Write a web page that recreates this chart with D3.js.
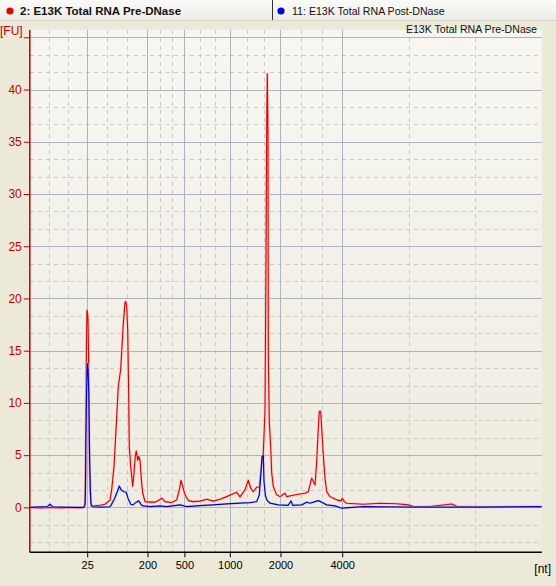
<!DOCTYPE html>
<html><head><meta charset="utf-8">
<script src="https://cdn.jsdelivr.net/npm/d3@7"></script>
<style>
html,body{margin:0;padding:0;background:#ECE9D8;}
svg{display:block;font-family:"Liberation Sans",Arial,sans-serif;}
</style></head><body>
<svg id="c" width="556" height="586"></svg>
<script>
// Migration time (s) and fluorescence (FU)
const redT = [19.02,20.02,21.02,22.02,23.02,24.02,24.42,24.49,24.54,24.60,24.67,24.72,24.77,24.82,24.87,24.92,24.97,25.05,25.15,25.52,26.02,26.52,27.02,27.19,27.42,27.62,27.85,28.09,28.22,28.35,28.52,28.59,28.69,28.79,28.89,28.95,29.09,29.29,29.42,29.55,29.65,29.79,29.89,30.02,30.19,30.29,30.52,31.02,31.52,31.85,32.19,32.52,33.19,33.69,33.95,34.12,34.29,34.52,34.85,35.35,36.02,36.69,37.35,38.02,38.69,39.35,39.69,40.02,40.52,40.85,41.09,41.35,41.69,41.95,42.09,42.35,42.52,42.62,42.69,42.75,42.82,42.85,42.95,43.09,43.19,43.35,43.69,44.02,44.52,44.69,45.19,45.85,46.52,46.85,47.02,47.19,47.35,47.52,47.69,47.85,47.95,48.09,48.19,48.35,48.52,48.69,49.02,49.35,49.69,50.12,50.25,50.45,50.69,52.35,54.02,55.69,56.85,57.35,59.02,61.19,61.69,64.02,67.35,70.13];
const redFU = [0,-0.05,0,-0.05,0,-0.05,0,0.3,1.5,8,16,18.9,18.7,18.0,15,9,4,1.2,0.1,0.15,0.2,0.3,0.7,1.7,3.9,7.4,11.6,13.2,15.4,17.6,19.6,19.7,19.2,17,10.6,5.8,3.9,2.0,3.3,4.9,5.4,4.5,4.9,4.5,2.3,1.4,0.55,0.5,0.5,0.65,0.88,0.55,0.46,0.72,1.67,2.6,2.0,1.2,0.65,0.55,0.6,0.78,0.6,0.78,1.03,1.3,1.45,1.0,1.67,2.6,1.84,1.5,1.93,1.93,3.3,5.2,9.3,23.7,36.4,41.5,35.8,14.8,8.1,5.8,3.3,2.0,1.2,1.03,1.36,1.03,1.13,1.26,1.36,1.5,2.15,2.8,2.47,2.15,4.4,7.6,9.2,9.2,7.6,5.0,2.8,1.5,1.03,0.88,0.72,0.62,0.88,0.55,0.4,0.3,0.4,0.35,0.24,0.08,0.08,0.33,0.1,0.02,0.05,0.02];
const blueT = [19.02,20.02,20.72,21.02,21.32,23.02,24.42,24.54,24.58,24.61,24.68,24.74,24.82,24.90,24.97,25.05,25.12,25.32,26.02,26.99,27.15,27.49,27.75,27.95,28.15,28.42,28.65,28.82,29.09,29.32,29.65,29.89,30.15,30.35,31.02,32.02,32.69,34.02,34.69,36.02,37.35,38.69,40.02,41.02,41.69,41.95,42.09,42.22,42.35,42.42,42.55,42.69,43.02,43.85,44.85,45.12,45.29,46.19,46.69,47.02,47.52,47.85,48.19,48.69,49.52,50.19,52.35,57.32,64.02,70.19];
const blueFU = [0,0.05,0.05,0.3,0.05,0,0,0.3,3.0,6.8,11,13.8,13.2,11,5.5,1.8,0.3,0.05,0.02,0.05,0.24,0.88,1.5,2.05,1.67,1.5,1.45,0.88,0.3,0.24,0.5,0.62,0.24,0.14,0.08,0.14,0.08,0.24,0.08,0.17,0.24,0.33,0.4,0.46,0.55,1.2,2.95,4.86,5.0,2.5,1.2,0.72,0.4,0.24,0.2,0.62,0.2,0.24,0.5,0.4,0.55,0.65,0.5,0.24,0.14,-0.08,0.08,0.02,0.02,0.08];
// ladder ticks: size label and migration time
const xTickLabels = ["25","200","500","1000","2000","4000"];
const xTickTimes = [24.74,30.77,34.46,39.00,44.07,50.24];
const yTicks = [0,5,10,15,20,25,30,35,40,45];
const sampleNames = ["2: E13K Total RNA Pre-DNase","11: E13K Total RNA Post-DNase"];
const plotTitle = "E13K Total RNA Pre-DNase";

const svg = d3.select("#c");
const L=29.8, R=541.8, T=30, B=552.3;
const x = d3.scaleLinear().domain([19.0,70.2]).range([L,R]);
const y = d3.scaleLinear().domain([-4.3,45.7]).range([B,T]);

// header
const hg = svg.append("defs").append("linearGradient").attr("id","hg").attr("x1",0).attr("x2",0).attr("y1",0).attr("y2",1);
hg.append("stop").attr("offset","0").attr("stop-color","#FBFBF9");
hg.append("stop").attr("offset","1").attr("stop-color","#ECEBE6");
const pg = svg.select("defs").append("linearGradient").attr("id","pg").attr("x1",0).attr("x2",0).attr("y1",0).attr("y2",1);
pg.append("stop").attr("offset","0").attr("stop-color","#F7F6F1");
pg.append("stop").attr("offset","1").attr("stop-color","#EEEBDF");
svg.append("rect").attr("x",0).attr("y",0).attr("width",556).attr("height",21).attr("fill","url(#hg)");
svg.append("line").attr("x1",0).attr("x2",556).attr("y1",20.5).attr("y2",20.5).attr("stroke","#D6D3C6");
svg.append("line").attr("x1",272.5).attr("x2",272.5).attr("y1",0).attr("y2",20).attr("stroke","#333");
svg.append("circle").attr("cx",10).attr("cy",11).attr("r",3.6).attr("fill","#E00000");
svg.append("text").attr("x",20).attr("y",15).attr("font-size",11.5).attr("font-weight","bold").attr("fill","#111").text(sampleNames[0]);
svg.append("circle").attr("cx",281).attr("cy",11).attr("r",3.6).attr("fill","#0000E0");
svg.append("text").attr("x",292).attr("y",15).attr("font-size",10.6).attr("fill","#111").text(sampleNames[1]);

// plot background
svg.append("rect").attr("x",L).attr("y",T).attr("width",R-L).attr("height",B-T).attr("fill","url(#pg)");

// grid
const g = svg.append("g");
const minorY=[];
for(let i=0;i<yTicks.length;i++){ for(let k=1;k<3;k++){ minorY.push(yTicks[i]-k*5/3); } }
g.selectAll(".my").data(minorY).join("line").attr("x1",L).attr("x2",R).attr("y1",d=>Math.round(y(d))+0.5).attr("y2",d=>Math.round(y(d))+0.5).attr("stroke","#C9C9C6").attr("stroke-dasharray","4,4");
const bounds=[x.domain()[0],...xTickTimes,x.domain()[1]];
const minorX=[];
for(let i=0;i<bounds.length-1;i++){ for(let k=1;k<3;k++) minorX.push(bounds[i]+(bounds[i+1]-bounds[i])*k/3); }
g.selectAll(".mx").data(minorX).join("line").attr("y1",T).attr("y2",B).attr("x1",d=>Math.round(x(d))+0.5).attr("x2",d=>Math.round(x(d))+0.5).attr("stroke","#C9C9C6").attr("stroke-dasharray","4,4");
g.selectAll(".gy").data(yTicks).join("line").attr("x1",L).attr("x2",R).attr("y1",d=>Math.round(y(d))+0.5).attr("y2",d=>Math.round(y(d))+0.5).attr("stroke","#AEB3C2");
g.selectAll(".gx").data(xTickTimes).join("line").attr("y1",T).attr("y2",B).attr("x1",d=>Math.round(x(d))+0.5).attr("x2",d=>Math.round(x(d))+0.5).attr("stroke","#AEB3C2");

// traces
const line = d3.line().x(d=>x(d[0])).y(d=>y(d[1]));
const redData = redT.map((t,i)=>[t,redFU[i]]);
const blueData = blueT.map((t,i)=>[t,blueFU[i]]);
svg.append("path").datum(redData).attr("d",line).attr("fill","none").attr("stroke","#F6C8C4").attr("stroke-width",2.6).attr("stroke-linejoin","round");
svg.append("path").datum(redData).attr("d",line).attr("fill","none").attr("stroke","#D80000").attr("stroke-width",1.1).attr("stroke-linejoin","round");
svg.append("path").datum(blueData).attr("d",line).attr("fill","none").attr("stroke","#C8CCEE").attr("stroke-width",2.4).attr("stroke-linejoin","round").attr("opacity",0.6);
svg.append("path").datum(blueData).attr("d",line).attr("fill","none").attr("stroke","#0000C8").attr("stroke-width",1.2).attr("stroke-linejoin","round");

// axes
const ya = d3.axisLeft(y).tickValues(yTicks).tickSize(6).tickFormat(d=>d===45?"":d);
const yg = svg.append("g").attr("transform",`translate(${L},0)`).call(ya);
yg.select(".domain").remove();
yg.selectAll(".tick line").attr("stroke","#C00000");
yg.selectAll(".tick text").attr("fill","#C00000").attr("font-size",12).attr("x",-8).attr("font-family","Liberation Sans, Arial, sans-serif");
svg.append("line").attr("x1",L).attr("x2",L).attr("y1",T).attr("y2",B).attr("stroke","#C00000").attr("stroke-width",1.5);

const xa = d3.axisBottom(x).tickValues(xTickTimes).tickSize(5).tickFormat((d,i)=>xTickLabels[i]);
const xg = svg.append("g").attr("transform",`translate(0,${B})`).call(xa);
xg.select(".domain").remove();
xg.selectAll(".tick line").attr("stroke","#000");
xg.selectAll(".tick text").attr("fill","#000").attr("font-size",11).attr("y",9).attr("font-family","Liberation Sans, Arial, sans-serif");
svg.append("line").attr("x1",L).attr("x2",R).attr("y1",B).attr("y2",B).attr("stroke","#000").attr("stroke-width",1.5);

svg.append("text").attr("x",0).attr("y",35).attr("font-size",12).attr("fill","#C00000").text("[FU]");
svg.append("text").attr("x",551).attr("y",573).attr("text-anchor","end").attr("font-size",12).attr("fill","#000").text("[nt]");
svg.append("text").attr("x",537).attr("y",33).attr("text-anchor","end").attr("font-size",10.6).attr("fill","#111").text(plotTitle);
</script>
</body></html>
